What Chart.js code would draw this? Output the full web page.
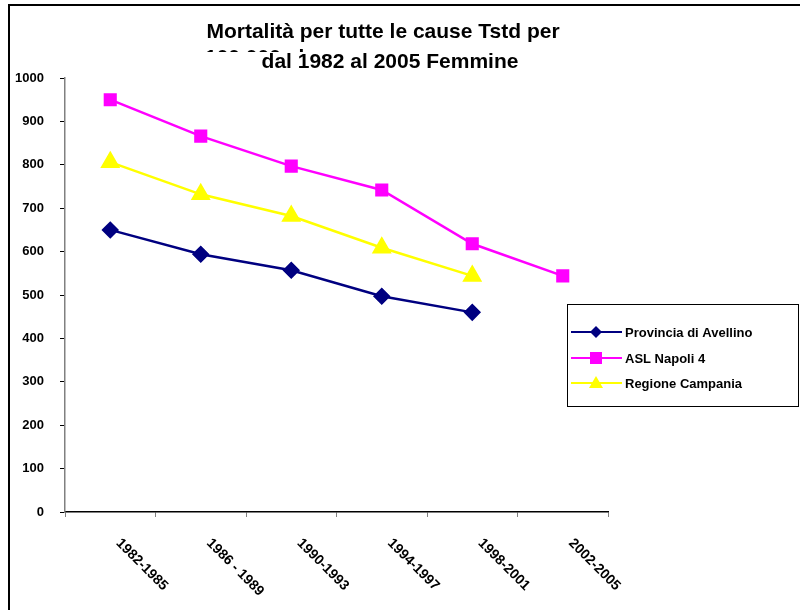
<!DOCTYPE html>
<html>
<head>
<meta charset="utf-8">
<script src="https://cdn.jsdelivr.net/npm/chart.js@4"></script>
<style>
  html, body { margin: 0; padding: 0; background: #fff; }
  #wrap { width: 800px; height: 610px; }
</style>
</head>
<body>
<div id="wrap"><canvas id="chart"></canvas></div>
<script>
const periodi = ['1982-1985', '1986 - 1989', '1990-1993', '1994-1997', '1998-2001', '2002-2005'];
const avellino = [650, 594, 557, 497, 460, null];
const napoli4 = [950, 866, 797, 742, 618, 544];
const campania = [806, 732, 682, 609, 544, null];
const titolo = ['Mortalità per tutte le cause Tstd per', '100.000 ab.', 'dal 1982 al 2005 Femmine'];

const ctx = document.getElementById('chart');

// titolo, bordo esterno, etichette ruotate e legenda disegnati a mano
const decorazioni = {
  id: 'decorazioni',
  afterDraw(chart) {
    const c = chart.ctx;
    c.save();
    // bordo
    c.strokeStyle = '#000';
    c.lineWidth = 2;
    c.beginPath();
    c.moveTo(9, 610);
    c.lineTo(9, 5);
    c.lineTo(800, 5);
    c.stroke();

    // titolo
    c.fillStyle = '#000';
    c.font = 'bold 21px Arial, "Liberation Sans", sans-serif';
    c.textBaseline = 'alphabetic';
    c.textAlign = 'center';
    c.fillText(titolo[0], 383, 38);
    c.textAlign = 'left';
    c.fillText(titolo[1], 205, 64);
    c.fillStyle = '#fff';
    c.fillRect(150, 52, 450, 24);
    c.fillStyle = '#000';
    c.textAlign = 'center';
    c.fillText(titolo[2], 390, 68);

    // etichette asse x
    const x = chart.scales.x;
    c.font = 'bold 14px Arial, "Liberation Sans", sans-serif';
    c.textAlign = 'left';
    c.textBaseline = 'middle';
    periodi.forEach((p, i) => {
      const px = x.getPixelForValue(i);
      c.save();
      c.translate(px + 8, 541);
      c.rotate(Math.PI / 4);
      c.fillText(p, 0, 0);
      c.restore();
    });

    // legenda
    c.strokeStyle = '#000';
    c.lineWidth = 1;
    c.strokeRect(567.5, 304.5, 231, 102);
    c.font = 'bold 13px Arial, "Liberation Sans", sans-serif';
    const righe = [332, 358, 383];
    chart.data.datasets.forEach((ds, i) => {
      const y = righe[i];
      c.strokeStyle = ds.borderColor;
      c.lineWidth = 2;
      c.beginPath();
      c.moveTo(571, y);
      c.lineTo(622, y);
      c.stroke();
      c.fillStyle = ds.backgroundColor;
      c.beginPath();
      if (ds.pointStyle === 'rectRot') {
        c.moveTo(596, y - 6); c.lineTo(602, y); c.lineTo(596, y + 6); c.lineTo(590, y);
      } else if (ds.pointStyle === 'rect') {
        c.rect(590, y - 6, 12, 12);
      } else {
        c.moveTo(596, y - 7); c.lineTo(603, y + 5); c.lineTo(589, y + 5);
      }
      c.closePath();
      c.fill();
      c.fillStyle = '#000';
      c.textAlign = 'left';
      c.textBaseline = 'middle';
      c.fillText(ds.label, 625, y + 1);
    });
    c.restore();
  }
};

new Chart(ctx, {
  type: 'line',
  data: {
    labels: periodi,
    datasets: [
      {
        label: 'Provincia di Avellino',
        data: avellino,
        borderColor: '#000080',
        backgroundColor: '#000080',
        borderWidth: 2.5,
        pointStyle: 'rectRot',
        pointRadius: 7,
        pointHoverRadius: 7,
      },
      {
        label: 'ASL Napoli 4',
        data: napoli4,
        borderColor: '#FF00FF',
        backgroundColor: '#FF00FF',
        borderWidth: 2.5,
        pointStyle: 'rect',
        pointRadius: 7.5,
        pointHoverRadius: 7.5,
      },
      {
        label: 'Regione Campania',
        data: campania,
        borderColor: '#FFFF00',
        backgroundColor: '#FFFF00',
        borderWidth: 2.5,
        pointStyle: 'triangle',
        pointRadius: 9,
        pointHoverRadius: 9,
      },
    ],
  },
  options: {
    responsive: true,
    maintainAspectRatio: false,
    animation: false,
    spanGaps: false,
    layout: { padding: { left: 0, right: 192, top: 78, bottom: 0 } },
    plugins: {
      legend: { display: false },
      title: { display: false },
      tooltip: { enabled: false },
    },
    scales: {
      x: {
        offset: true,
        grid: { offset: true, drawOnChartArea: false, color: '#808080', tickLength: 5 },
        border: { color: '#000', width: 1.5 },
        ticks: { display: false },
        afterFit(s) { s.height = 98; },
      },
      y: {
        min: 0,
        max: 1000,
        grid: { drawOnChartArea: false, color: '#000', tickLength: 5 },
        border: { color: '#808080', width: 1.5 },
        ticks: {
          stepSize: 100,
          padding: 16,
          color: '#000',
          font: { family: 'Arial, "Liberation Sans", sans-serif', size: 13, weight: 'bold' },
          callback: v => String(v),
        },
        afterFit(s) { s.width = 65; },
      },
    },
  },
  plugins: [decorazioni],
});
</script>
</body>
</html>
